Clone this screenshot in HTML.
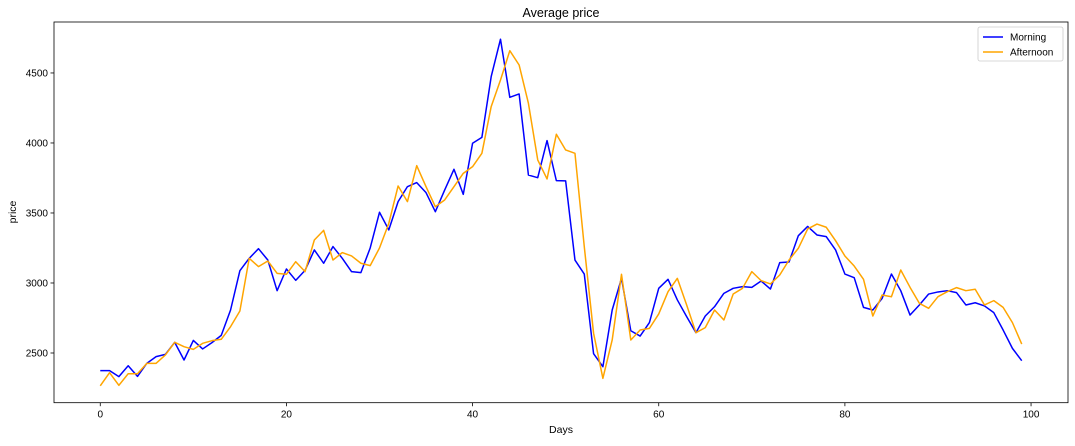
<!DOCTYPE html>
<html><head><meta charset="utf-8"><style>
body{margin:0;background:#fff;font-family:"Liberation Sans",sans-serif;}
svg text{font-family:"Liberation Sans",sans-serif;fill:#000;}
</style></head><body>
<svg id="chart" width="1075" height="441" xmlns="http://www.w3.org/2000/svg">
<text x="561" y="17" font-size="12.5" text-anchor="middle">Average price</text>
<text x="561" y="433" font-size="10.5" text-anchor="middle">Days</text>
<text x="16" y="212" font-size="10.5" text-anchor="middle" transform="rotate(-90 16 212)">price</text>
<g id="ticks"></g>
<g id="lines"></g>
<rect x="54" y="22" width="1014" height="380.7" fill="none" stroke="#000" stroke-width="0.8"/>
<g>
<rect x="978" y="27" width="85" height="34" rx="2" fill="#fff" stroke="#ccc" stroke-width="0.8"/>
<line x1="983" y1="37" x2="1003" y2="37" stroke="#0000ff" stroke-width="1.5"/>
<text x="1010" y="40.5" font-size="10">Morning</text>
<line x1="983" y1="52" x2="1003" y2="52" stroke="#ffa500" stroke-width="1.5"/>
<text x="1010" y="55.5" font-size="10">Afternoon</text>
</g>
</svg>
<script>
const morning=[2374,2374,2331,2409,2333,2426,2474,2490,2576,2450,2590,2529,2574,2626,2807,3088,3176,3245,3164,2945,3100,3019,3090,3236,3141,3260,3176,3081,3074,3250,3505,3379,3581,3688,3717,3645,3509,3664,3812,3633,3998,4040,4474,4741,4326,4350,3771,3752,4017,3731,3729,3164,3064,2495,2402,2807,3033,2659,2621,2717,2962,3026,2879,2760,2645,2764,2831,2926,2962,2974,2969,3014,2957,3145,3150,3338,3404,3343,3331,3236,3064,3038,2826,2807,2890,3064,2945,2771,2843,2921,2936,2945,2931,2843,2859,2836,2788,2664,2533,2445];
const afternoon=[2266,2359,2269,2352,2352,2426,2426,2486,2576,2545,2526,2569,2588,2598,2688,2800,3176,3117,3157,3069,3062,3152,3081,3307,3376,3164,3217,3193,3141,3124,3250,3426,3693,3581,3838,3688,3545,3593,3688,3783,3831,3926,4260,4450,4659,4557,4283,3879,3743,4062,3950,3926,3260,2641,2319,2593,3062,2593,2664,2676,2779,2938,3033,2843,2645,2681,2807,2736,2921,2962,3081,3017,2993,3057,3164,3248,3386,3421,3398,3302,3193,3121,3026,2764,2914,2902,3093,2969,2855,2819,2902,2938,2967,2945,2955,2843,2874,2826,2717,2564];
const xTicks=[0,20,40,60,80,100];
const yTicks=[2500,3000,3500,4000,4500];
const X0=54,X1=1068,Y0=402.7,Y1=22,XD0=-4.97,XD1=103.97,YD0=2145,YD1=4864;
const sx=v=>X0+(v-XD0)/(XD1-XD0)*(X1-X0);
const sy=v=>Y0-(v-YD0)/(YD1-YD0)*(Y0-Y1);
const NS="http://www.w3.org/2000/svg";
const tg=document.getElementById('ticks'),lg=document.getElementById('lines');
function mk(t,a,p){const e=document.createElementNS(NS,t);for(const k in a)e.setAttribute(k,a[k]);p.appendChild(e);return e;}
xTicks.forEach(v=>{const x=sx(v);
const l=mk('line',{x1:x,x2:x,y1:Y0,y2:Y0+3.5,stroke:'#000','stroke-width':0.8},tg);


const t=mk('text',{x:x,y:Y0+15,'font-size':10,'text-anchor':'middle'},tg);t.textContent=v;

});
yTicks.forEach(v=>{const y=sy(v);
const l=mk('line',{x1:X0-3.5,x2:X0,y1:y,y2:y,stroke:'#000','stroke-width':0.8},tg);


const t=mk('text',{x:X0-6,y:y+3.5,'font-size':10,'text-anchor':'end'},tg);t.textContent=v;

});
function line(d,c,n){const p=mk('polyline',{points:d.map((v,i)=>sx(i)+','+sy(v)).join(' '),fill:'none',stroke:c,'stroke-width':1.5,'stroke-linejoin':'round'},lg);

}
line(morning,'#0000ff','morning-line');
line(afternoon,'#ffa500','afternoon-line');
</script>
</body></html>
